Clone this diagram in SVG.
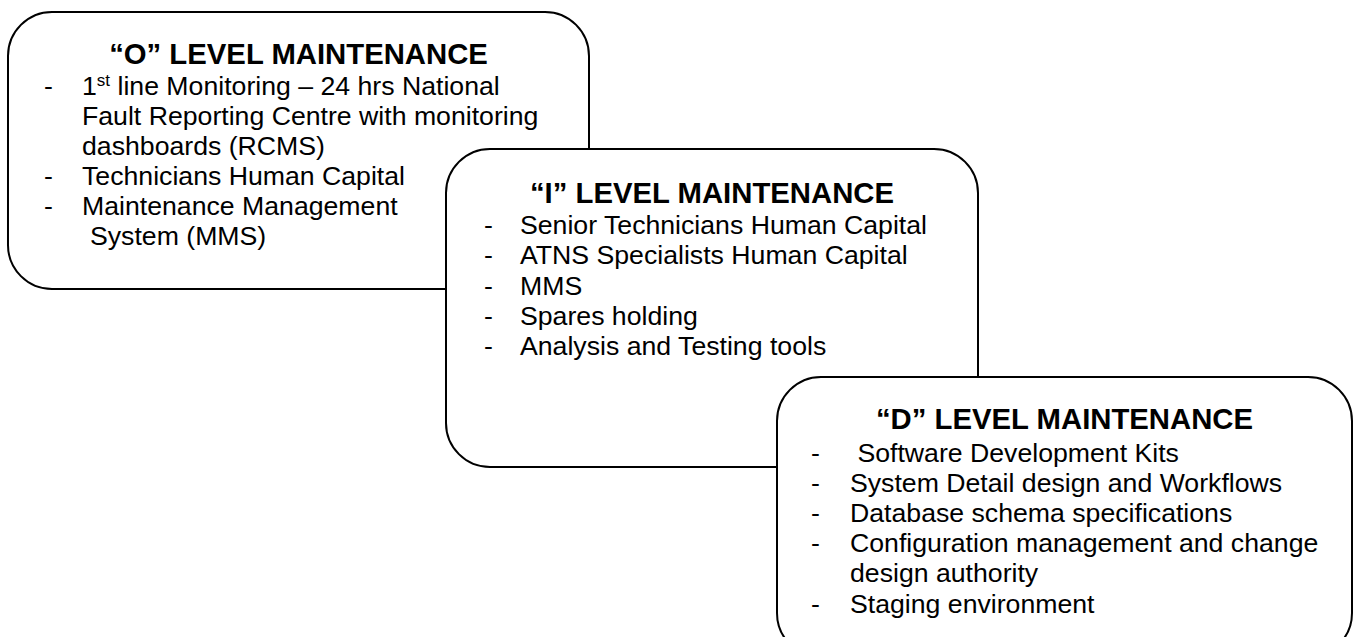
<svg xmlns="http://www.w3.org/2000/svg" width="1360" height="637" viewBox="0 0 1360 637">
  <style>
    .box { fill: #ffffff; stroke: #000000; stroke-width: 2; }
    .title { font-family: "Liberation Sans", Arial, sans-serif; font-size: 29.3px; font-weight: bold; fill: #000; text-anchor: middle; }
    .item { font-family: "Liberation Sans", Arial, sans-serif; font-size: 26.67px; fill: #000; }
    .sup { font-size: 17px; }
  </style>
  <rect width="1360" height="637" fill="#ffffff"/>
  <g id="connectors"/>
  <g id="node-o-level">
    <rect class="box" x="8" y="12" width="581" height="277" rx="44" ry="44"/>
    <text class="title" x="298.5" y="64">“O” LEVEL MAINTENANCE</text>
    <text class="item" x="44" y="95">-</text>
    <text class="item" x="82" y="95">1<tspan class="sup" dy="-9">st</tspan><tspan dy="9"> line Monitoring – 24 hrs National</tspan></text>
    <text class="item" x="82" y="124.5">Fault Reporting Centre with monitoring</text>
    <text class="item" x="82" y="155">dashboards (RCMS)</text>
    <text class="item" x="44" y="185">-</text>
    <text class="item" x="82" y="185">Technicians Human Capital</text>
    <text class="item" x="44" y="215">-</text>
    <text class="item" x="82" y="215">Maintenance Management</text>
    <text class="item" x="90" y="245">System (MMS)</text>
  </g>
  <g id="node-i-level">
    <rect class="box" x="446" y="149" width="532" height="318" rx="44" ry="44"/>
    <text class="title" x="712" y="203">“I” LEVEL MAINTENANCE</text>
    <text class="item" x="484" y="234">-</text>
    <text class="item" x="520" y="234">Senior Technicians Human Capital</text>
    <text class="item" x="484" y="264">-</text>
    <text class="item" x="520" y="264">ATNS Specialists Human Capital</text>
    <text class="item" x="484" y="295">-</text>
    <text class="item" x="520" y="295">MMS</text>
    <text class="item" x="484" y="325">-</text>
    <text class="item" x="520" y="325">Spares holding</text>
    <text class="item" x="484" y="355">-</text>
    <text class="item" x="520" y="355">Analysis and Testing tools</text>
  </g>
  <g id="node-d-level">
    <rect class="box" x="777" y="377" width="575" height="280" rx="44" ry="44"/>
    <text class="title" x="1064.5" y="429">“D” LEVEL MAINTENANCE</text>
    <text class="item" x="811" y="462">-</text>
    <text class="item" x="857.4" y="462">Software Development Kits</text>
    <text class="item" x="811" y="492">-</text>
    <text class="item" x="850" y="492">System Detail design and Workflows</text>
    <text class="item" x="811" y="522">-</text>
    <text class="item" x="850" y="522">Database schema specifications</text>
    <text class="item" x="811" y="552">-</text>
    <text class="item" x="850" y="552">Configuration management and change</text>
    <text class="item" x="850" y="582">design authority</text>
    <text class="item" x="811" y="613">-</text>
    <text class="item" x="850" y="613">Staging environment</text>
  </g>
</svg>
